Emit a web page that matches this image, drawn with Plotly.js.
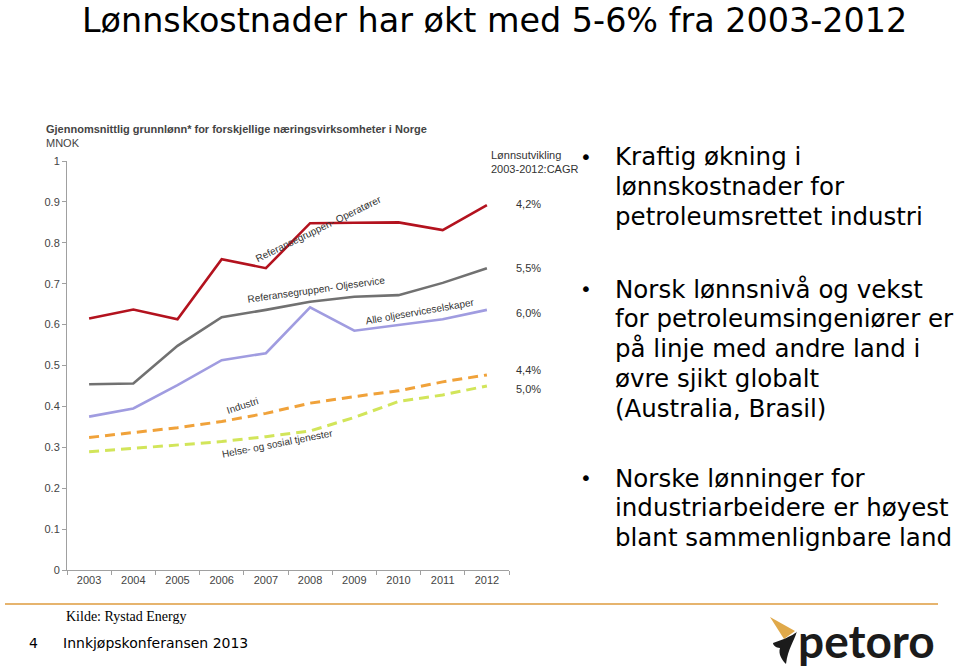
<!DOCTYPE html>
<html>
<head>
<meta charset="utf-8">
<script src="https://cdn.plot.ly/plotly-3.0.1.min.js"></script>
<style>
html,body{margin:0;padding:0;background:#fff;overflow:hidden;}
#chart{width:960px;height:668px;}
</style>
</head>
<body>
<div id="chart"></div>
<script>
// ---- data ----
const years = ["2003","2004","2005","2006","2007","2008","2009","2010","2011","2012"];
const operatorer = [0.615,0.637,0.613,0.760,0.738,0.848,0.849,0.850,0.831,0.892];
const oljeservice = [0.454,0.456,0.548,0.618,0.636,0.656,0.668,0.672,0.702,0.738];
const alleOljeservice = [0.375,0.395,0.452,0.513,0.530,0.642,0.585,0.599,0.613,0.636];
const industri = [0.324,0.336,0.348,0.363,0.383,0.408,0.424,0.438,0.460,0.477];
const helse = [0.289,0.297,0.306,0.314,0.326,0.340,0.373,0.412,0.428,0.450];
const seriesNames = ["Referansegruppen- Operatører","Referansegruppen- Oljeservice","Alle oljeserviceselskaper","Industri","Helse- og sosial tjenester"];
const cagrLabels = ["4,2%","5,5%","6,0%","4,4%","5,0%"];
const yTicks = [0,0.1,0.2,0.3,0.4,0.5,0.6,0.7,0.8,0.9,1];
const yTickText = ["0","0.1","0.2","0.3","0.4","0.5","0.6","0.7","0.8","0.9","1"];
const mainTitle = "Lønnskostnader har økt med 5-6% fra 2003-2012";
const chartSubtitle = "Gjennomsnittlig grunnlønn* for forskjellige næringsvirksomheter i Norge";
const unitLabel = "MNOK";
const cagrHeader = "Lønnsutvikling<br>2003-2012:CAGR";
const bullets = [
  ["Kraftig økning i","lønnskostnader for","petroleumsrettet industri"],
  ["Norsk lønnsnivå og vekst","for petroleumsingeniører er","på linje med andre land i","øvre sjikt globalt","(Australia, Brasil)"],
  ["Norske lønninger for","industriarbeidere er høyest","blant sammenlignbare land"]
];
const sourceText = "Kilde: Rystad Energy";
const pageNo = "4";
const footerText = "Innkjøpskonferansen 2013";
const logoText = "petoro";

// ---- layout geometry ----
const W = 960, H = 668;
const L = 67, R = 509, T = 161, B = 570;
const pw = R - L, ph = B - T;
const px = x => (x - L) / pw;
const py = y => (B - y) / ph;

const colors = ["#B3121E","#717171","#A09CE0","#F0A23A","#D2E55A"];
const data = [operatorer, oljeservice, alleOljeservice, industri, helse];
const traces = data.map((d, i) => ({
  x: years, y: d, type: "scatter", mode: "lines", name: seriesNames[i],
  line: {color: colors[i], width: i >= 3 ? 3 : 2.6, dash: i >= 3 ? "10px,6px" : "solid"},
  hoverinfo: "x+y+name"
}));

const ann = [];
const lblFont = {family: "Liberation Sans, Arial, sans-serif", size: 10, color: "#333"};
// series labels on lines (data coords)
const lblPos = [[5.2,0.836,-26],[5.15,0.685,-8],[7.48,0.631,-10],[3.47,0.403,-18],[4.26,0.310,-11]];
lblPos.forEach((p, i) => ann.push({x: p[0], y: p[1], xref: "x", yref: "y", text: seriesNames[i], textangle: p[2], showarrow: false, font: lblFont}));
// CAGR labels
const cagrY = [204,268,313,370,389];
cagrLabels.forEach((t, i) => ann.push({x: px(514), y: py(cagrY[i]), xref: "paper", yref: "paper", xanchor: "left", yanchor: "middle", text: t, showarrow: false, font: {family: "Liberation Sans, Arial, sans-serif", size: 11, color: "#333"}}));
ann.push({x: px(489), y: py(162), xref: "paper", yref: "paper", xanchor: "left", yanchor: "middle", text: cagrHeader, showarrow: false, align: "left", font: {family: "Liberation Sans Narrow, Liberation Sans, Arial, sans-serif", size: 11, color: "#333"}});
// subtitle and unit
ann.push({x: px(44), y: py(129), xref: "paper", yref: "paper", xanchor: "left", yanchor: "middle", text: "<b>" + chartSubtitle + "</b>", showarrow: false, font: {family: "Liberation Sans, Arial, sans-serif", size: 11, color: "#444"}});
ann.push({x: px(44), y: py(143), xref: "paper", yref: "paper", xanchor: "left", yanchor: "middle", text: unitLabel, showarrow: false, font: {family: "Liberation Sans, Arial, sans-serif", size: 11, color: "#444"}});
// bullets
const bFont = {family: "DejaVu Sans, Verdana, sans-serif", size: 24.5, color: "#000"};
const bStart = [157, 289, 478];
bullets.forEach((lines, bi) => {
  ann.push({x: px(578), y: py(bStart[bi]), xref: "paper", yref: "paper", xanchor: "left", yanchor: "middle", text: "•", showarrow: false, font: {family: "DejaVu Sans, Verdana, sans-serif", size: 20, color: "#000"}});
  lines.forEach((ln, li) => ann.push({x: px(613), y: py(bStart[bi] + li * 29.8), xref: "paper", yref: "paper", xanchor: "left", yanchor: "middle", text: ln, showarrow: false, font: bFont}));
});
// footer
ann.push({x: px(64), y: py(616), xref: "paper", yref: "paper", xanchor: "left", yanchor: "middle", text: sourceText, showarrow: false, font: {family: "Liberation Serif, Times New Roman, serif", size: 14, color: "#000"}});
ann.push({x: px(27), y: py(643), xref: "paper", yref: "paper", xanchor: "left", yanchor: "middle", text: pageNo, showarrow: false, font: {family: "DejaVu Sans, Verdana, sans-serif", size: 14, color: "#000"}});
ann.push({x: px(61), y: py(643), xref: "paper", yref: "paper", xanchor: "left", yanchor: "middle", text: footerText, showarrow: false, font: {family: "DejaVu Sans, Verdana, sans-serif", size: 14, color: "#000"}});
ann.push({x: px(796), y: py(640), xref: "paper", yref: "paper", xanchor: "left", yanchor: "middle", text: "<b>" + logoText + "</b>", showarrow: false, font: {family: "Lato, Open Sans, sans-serif", size: 46, color: "#1b1b1b"}});

const shapes = [
  {type: "line", xref: "paper", yref: "paper", x0: px(5), x1: px(938), y0: py(604), y1: py(604), line: {color: "#E6B46E", width: 2}},
  // petoro flame mark (decoration)
  {type: "path", xref: "paper", yref: "paper", fillcolor: "#E0A94A", line: {width: 0},
   path: `M ${px(770)} ${py(617)} L ${px(795)} ${py(631)} L ${px(784)} ${py(639)} Z`},
  {type: "path", xref: "paper", yref: "paper", fillcolor: "#1b1b1b", line: {width: 0},
   path: `M ${px(784)} ${py(639)} C ${px(790)} ${py(636)} ${px(797)} ${py(633)} ${px(797)} ${py(631)} C ${px(794)} ${py(642)} ${px(788)} ${py(648)} ${px(786)} ${py(664)} C ${px(782)} ${py(660)} ${px(778)} ${py(654)} ${px(780)} ${py(648)} C ${px(776)} ${py(648)} ${px(773)} ${py(645)} ${px(773)} ${py(643)} Z`}
];

const layout = {
  width: W, height: H,
  margin: {l: L, r: W - R, t: T, b: H - B, pad: 0},
  paper_bgcolor: "#fff", plot_bgcolor: "#fff",
  showlegend: false,
  title: {text: mainTitle, x: 82 / W, xanchor: "left", y: 1 - 20 / H, yanchor: "middle", xref: "container", yref: "container",
          font: {family: "DejaVu Sans, Verdana, sans-serif", size: 33.4, color: "#000"}},
  xaxis: {type: "category", range: [-0.5, 9.5], showgrid: false, zeroline: false,
          showline: true, linecolor: "#A0A0A0", linewidth: 1,
          ticks: "outside", tickson: "boundaries", ticklen: 4, tickcolor: "#A0A0A0",
          tickfont: {family: "Liberation Sans, Arial, sans-serif", size: 11, color: "#444"}, fixedrange: true},
  yaxis: {range: [0, 1], tickvals: yTicks, ticktext: yTickText, showgrid: false, zeroline: false,
          showline: true, linecolor: "#A0A0A0", linewidth: 1,
          ticks: "outside", ticklen: 4, tickcolor: "#A0A0A0",
          tickfont: {family: "Liberation Sans, Arial, sans-serif", size: 11, color: "#444"}, fixedrange: true},
  annotations: ann,
  shapes: shapes
};

Plotly.newPlot("chart", traces, layout, {displayModeBar: false});
</script>
</body>
</html>
